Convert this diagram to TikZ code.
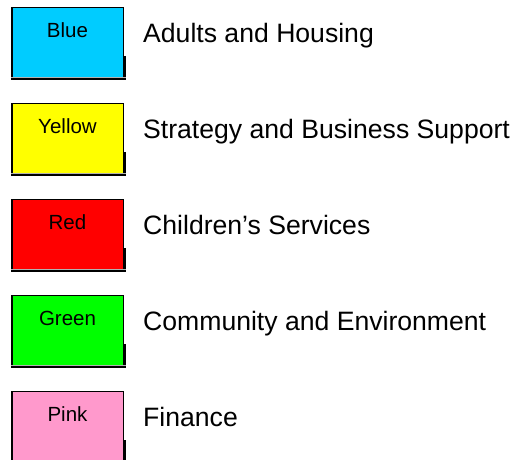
\documentclass[tikz,border=0pt]{standalone}
\usepackage{fontspec}
\setmainfont{Liberation Sans}
\definecolor{keyblue}{HTML}{00CCFF}
\definecolor{keyyellow}{HTML}{FFFF00}
\definecolor{keyred}{HTML}{FF0000}
\definecolor{keygreen}{HTML}{00FF00}
\definecolor{keypink}{HTML}{FF99CC}
\tikzset{
  keybox/.style={rectangle, draw=none, inner sep=0pt, outer sep=0pt,
    minimum width=113pt, minimum height=71pt, anchor=north west},
  keylabel/.style={anchor=base, inner sep=0pt, font=\fontsize{20.5}{24}\selectfont},
  keytext/.style={anchor=base west, inner sep=0pt, font=\fontsize{26.6}{31}\selectfont},
}
\begin{document}
\begin{tikzpicture}[x=1pt, y=-1pt]
\useasboundingbox (0,0) rectangle (514,459);
\clip (0,0) rectangle (514,459);
\foreach \t/\c/\l/\d/\n in {
  7/keyblue/Blue/Adults and Housing/adults,
  103/keyyellow/Yellow/Strategy and Business Support/strategy,
  199/keyred/Red/Children’s Services/children,
  295/keygreen/Green/Community and Environment/community,
  391/keypink/Pink/Finance/finance}{
  % coloured key box
  \node[keybox, fill=\c] (\n-box) at (11,\t) {};
  \draw[gray!70, line width=0.8pt] (\n-box.north west) -- (\n-box.north east);
  \draw[black, line width=0.8pt] ([yshift=-0.8pt]\n-box.north west) -- ([yshift=-0.8pt]\n-box.north east);
  \draw[black, line width=2pt] ([xshift=1pt]\n-box.north west) -- ([xshift=1pt]\n-box.south west);
  \draw[black, line width=1pt] ([xshift=-0.5pt]\n-box.north east) -- ([xshift=-0.5pt]\n-box.south east);
  \draw[black, line width=2.5pt] ([xshift=0.5pt,yshift=-49pt]\n-box.north east) -- ([xshift=0.5pt]\n-box.south east);
  \draw[black, line width=2pt] ([yshift=-1pt]\n-box.south west) -- ([yshift=-1pt,xshift=1.7pt]\n-box.south east);
  \draw[gray!60, line width=0.8pt] ([yshift=0.4pt]\n-box.south west) -- ([yshift=0.4pt,xshift=1.7pt]\n-box.south east);
  % colour name inside the box
  \node[keylabel] (\n-label) at (67.5,\t+30) {\l};
  % directorate name beside the box
  \node[keytext] (\n-text) at (143,\t+35) {\d};
}
\end{tikzpicture}
\end{document}
